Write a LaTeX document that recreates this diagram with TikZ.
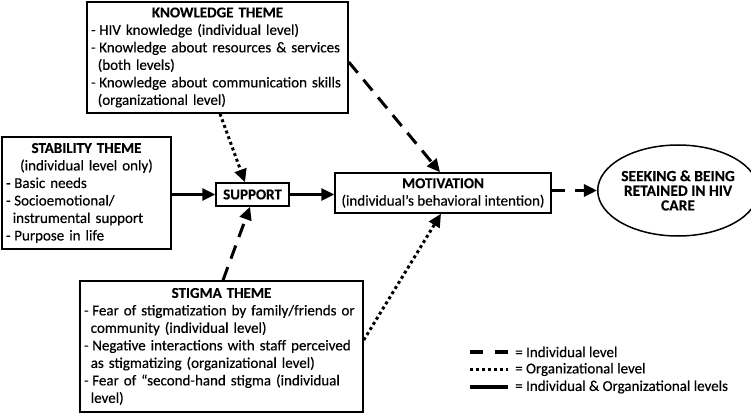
\documentclass[tikz,border=0pt]{standalone}
\usepackage{fontspec}
\setmainfont{Carlito}[FakeBold=0.3]
\usetikzlibrary{arrows.meta,shapes.geometric}
\newcommand{\dsh}{\makebox[0.55em][l]{-}}
\newcommand{\cnt}{\hspace*{0.45em}}
\newcommand{\hdr}[1]{\makebox[\linewidth][c]{#1}}
\tikzset{
  box/.style={draw,line width=1.5pt,inner xsep=4pt,inner ysep=0pt,align=left,
    font=\fontsize{15}{17.5}\selectfont},
  conn/.style={line width=3pt,-{Triangle[length=13pt,width=12pt]}},
  indiv/.style={dash pattern=on 14pt off 9pt},
  orgn/.style={dash pattern=on 3pt off 3pt},
  legtext/.style={anchor=west,inner sep=0pt,font=\fontsize{15}{17.5}\selectfont}
}
\begin{document}
\begin{tikzpicture}[x=1pt,y=-1pt]
\useasboundingbox (0,0) rectangle (751,414);
\fill[white] (0,0) rectangle (751,414);
% boxes
\node[box,text width=253pt,minimum height=111pt] (know) at (217.5,57.5) {%
\hdr{\bfseries KNOWLEDGE THEME}\\
\dsh HIV knowledge (individual level)\\
\dsh Knowledge about resources \& services\\
\cnt(both levels)\\
\dsh Knowledge about communication skills\\
\cnt(organizational level)};
\node[box,text width=161pt,minimum height=112pt] (stab) at (86.5,193) {%
\hdr{\bfseries STABILITY THEME}\\
\hdr{(individual level only)}\\
\dsh Basic needs\\
\dsh Socioemotional/\\
\cnt instrumental support\\
\dsh Purpose in life};
\node[box,text width=275pt,minimum height=131pt] (stig) at (221.5,346.5) {%
\hdr{\bfseries STIGMA THEME}\\
\dsh Fear of stigmatization by family/friends or\\
\cnt community (individual level)\\
\dsh Negative interactions with staff perceived\\
\cnt as stigmatizing (organizational level)\\
\dsh Fear of “second-hand stigma (individual\\
\cnt level)};
\node[box,align=center,minimum width=73pt,minimum height=23pt,inner xsep=0pt,
  font=\fontsize{15}{17.5}\selectfont\bfseries] (supp) at (252.5,194.5) {SUPPORT};
\node[box,align=center,minimum width=216pt,minimum height=40pt,inner xsep=0pt] (motiv) at (443,193)
  {\textbf{MOTIVATION}\\(individual’s behavioral intention)};
\node[draw,line width=1.5pt,ellipse,inner sep=0pt,minimum width=144pt,minimum height=91pt,
  align=center,font=\fontsize{15.5}{17.5}\selectfont\bfseries] (care) at (678,190.5)
  {\raisebox{-4pt}{\shortstack{SEEKING \& BEING\\[1.5pt]RETAINED IN HIV\\[1.5pt]CARE}}};
% connectors
\draw[conn] (stab.east |- supp.west) -- (supp.west);
\draw[conn] (supp.east) -- (motiv.west |- supp.east);
\draw[conn,orgn] (know.south -| 220,0) -- (supp.north -| 245,0);
\draw[conn,indiv] (stig.north -| 223,0) -- (supp.south -| 250,0);
\draw[conn,indiv] (know.east |- 0,62) -- (motiv.north -| 440,0);
\draw[conn,orgn] (stig.east |- 0,340) -- (motiv.south -| 441,0);
\draw[conn,dash pattern=on 13pt off 10pt] (motiv.east |- care.west) -- (care.west);
% legend
\coordinate (l1a) at (470,352); \coordinate (l1b) at (508,352);
\coordinate (l2a) at (470,369.5); \coordinate (l2b) at (508,369.5);
\coordinate (l3a) at (470,387); \coordinate (l3b) at (508,387);
\draw[line width=3.5pt,dash pattern=on 13pt off 12pt] (l1a) -- (l1b);
\draw[line width=3.5pt,dash pattern=on 3pt off 3pt] (l2a) -- (l2b);
\draw[line width=3.5pt] (l3a) -- (l3b);
\node[legtext] (t1) at (515,352) {= Individual level};
\node[legtext] (t2) at (515,369.5) {= Organizational level};
\node[legtext] (t3) at (515,387) {= Individual \& Organizational levels};
\end{tikzpicture}
\end{document}
